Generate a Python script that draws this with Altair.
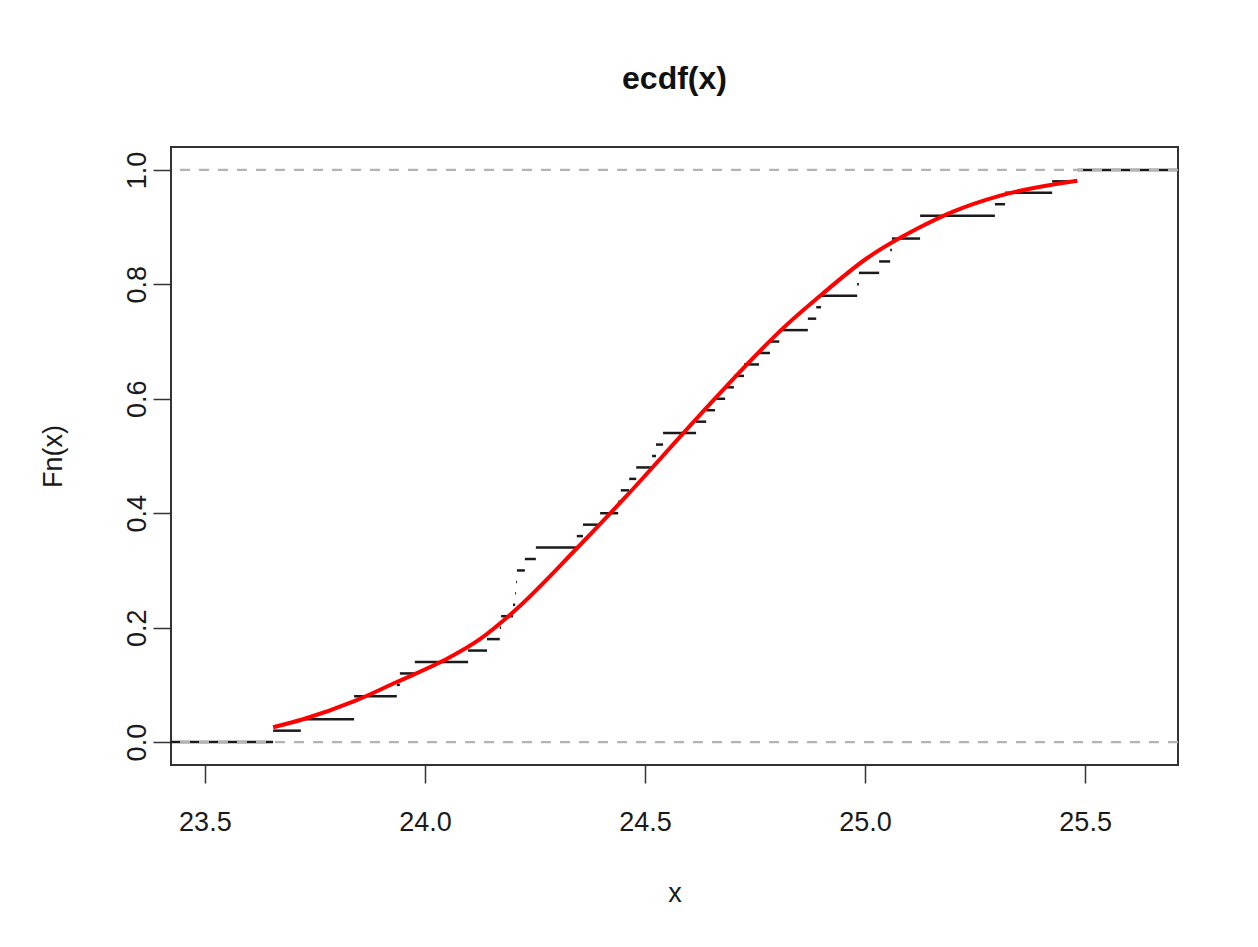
import altair as alt
import pandas as pd

# sample values (n = 50) read from the step positions
sample_x = [23.655, 23.718, 23.839, 23.839, 23.936, 23.943, 23.977, 24.098, 24.141, 24.170,
            24.173, 24.200, 24.205, 24.207, 24.209, 24.227, 24.252, 24.345, 24.359, 24.398,
            24.439, 24.445, 24.464, 24.480, 24.516, 24.525, 24.541, 24.616, 24.639, 24.659,
            24.682, 24.702, 24.725, 24.759, 24.784, 24.805, 24.870, 24.889, 24.900, 24.982,
            24.986, 25.032, 25.057, 25.061, 25.125, 25.125, 25.295, 25.318, 25.425, 25.482]

# red fitted curve
curve_x = [23.655, 23.723, 23.841, 23.936, 24.041, 24.125, 24.200, 24.348, 24.459,
           24.625, 24.823, 24.898, 25.005, 25.118, 25.200, 25.307, 25.482]
curve_y = [0.026, 0.040, 0.072, 0.105, 0.142, 0.180, 0.227, 0.341, 0.431,
           0.572, 0.730, 0.780, 0.846, 0.897, 0.927, 0.955, 0.981]

x_domain = [23.423, 25.711]
y_domain = [-0.04, 1.04]
x_ticks = [23.5, 24.0, 24.5, 25.0, 25.5]
y_ticks = [0.0, 0.2, 0.4, 0.6, 0.8, 1.0]
ref_levels = [0.0, 1.0]

# build step segments of the empirical CDF
n = len(sample_x)
knots = sorted(set(sample_x))
levels = [sum(1 for v in sample_x if v <= k) / n for k in knots]
seg_x = [x_domain[0]] + knots
seg_x2 = knots + [x_domain[1]]
seg_y = [0.0] + levels
steps = pd.DataFrame({"x": seg_x, "x2": seg_x2, "y": seg_y})
curve = pd.DataFrame({"x": curve_x, "y": curve_y})
refs = pd.DataFrame({"y": ref_levels})

FONT = "Liberation Sans, Arial, Helvetica, sans-serif"

xscale = alt.Scale(domain=x_domain, nice=False, zero=False)
yscale = alt.Scale(domain=y_domain, nice=False, zero=False)

xaxis = alt.Axis(values=x_ticks, format=".1f", title="x", domain=False, grid=False,
                 tickSize=18, tickColor="#333", tickWidth=1.5,
                 labelFont=FONT, labelFontSize=27, labelColor="#1a1a1a",
                 labelBaseline="middle", labelPadding=39, labelFlush=False,
                 titleFont=FONT, titleFontSize=27, titleFontWeight="normal",
                 titleColor="#1a1a1a", titlePadding=45)
yaxis = alt.Axis(values=y_ticks, format=".1f", title="Fn(x)", domain=False, grid=False,
                 tickSize=18, tickColor="#333", tickWidth=1.5,
                 labelFont=FONT, labelFontSize=27, labelColor="#1a1a1a",
                 labelAngle=270, labelAlign="center", labelBaseline="middle",
                 labelPadding=16, labelFlush=False,
                 titleFont=FONT, titleFontSize=27, titleFontWeight="normal",
                 titleColor="#1a1a1a", titlePadding=56)

step_layer = alt.Chart(steps).mark_rule(color="#1a1a1a", strokeWidth=2.5, clip=True).encode(
    x=alt.X("x:Q", scale=xscale, axis=xaxis),
    x2="x2:Q",
    y=alt.Y("y:Q", scale=yscale, axis=yaxis),
)

ref_layer = alt.Chart(refs).mark_rule(color="#b3b3b3", strokeWidth=2.2,
                                      strokeDash=[10, 9]).encode(
    y=alt.Y("y:Q", scale=yscale),
)

curve_layer = alt.Chart(curve).mark_line(color="#ff0000", strokeWidth=4,
                                         interpolate="monotone").encode(
    x=alt.X("x:Q", scale=xscale),
    y=alt.Y("y:Q", scale=yscale),
)

chart = alt.layer(step_layer, ref_layer, curve_layer).properties(
    width=1007,
    height=618,
    title=alt.TitleParams("ecdf(x)", font=FONT, fontSize=32, fontWeight="bold",
                          color="#111", anchor="middle", offset=51),
    padding={"left": 163, "top": 139, "right": 72, "bottom": 174},
    autosize=alt.AutoSizeParams(type="none"),
).configure(
    background="white",
    view=alt.ViewConfig(stroke="#333", strokeWidth=2),
)

chart.save("out.html", embed_options={"renderer": "svg", "actions": False})
